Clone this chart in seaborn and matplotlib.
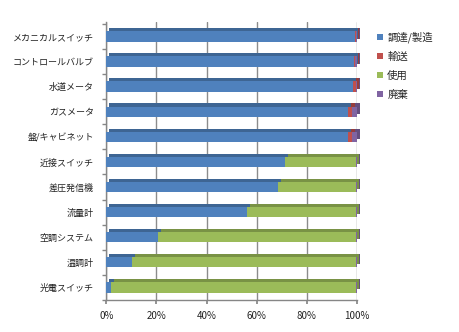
import numpy as np
import pandas as pd
import matplotlib
matplotlib.use("Agg")
import matplotlib.pyplot as plt
import matplotlib.patheffects as pe
from matplotlib.patches import Patch
import seaborn as sns

categories = ["メカニカルスイッチ", "コントロールバルブ", "水道メータ", "ガスメータ",
              "盤/キャビネット", "近接スイッチ", "差圧発信機", "流量計",
              "空調システム", "温調計", "光電スイッチ"]
procure = [99.2, 99.0, 98.5, 96.5, 96.5, 71.1, 68.5, 56.1, 20.5, 10.3, 1.8]
transport = [0.3, 0.4, 1.0, 1.5, 1.5, 0.3, 0.1, 0.1, 0.0, 0.0, 0.0]
use = [0.0, 0.0, 0.0, 0.0, 0.0, 28.2, 31.0, 43.4, 79.1, 89.3, 97.8]
disposal = [0.5, 0.6, 0.5, 2.0, 2.0, 0.4, 0.4, 0.4, 0.4, 0.4, 0.4]
series_names = ["調達/製造", "輸送", "使用", "廃棄"]
colors = ["#4F81BD", "#C0504D", "#9BBB59", "#8064A2"]
tick_vals = [0, 20, 40, 60, 80, 100]
tick_labels = ["0%", "20%", "40%", "60%", "80%", "100%"]

sns.set_theme(style="white")
plt.rcParams["font.family"] = ["Noto Sans CJK JP", "DejaVu Sans"]

df = pd.DataFrame({"cat": categories, "s0": procure, "s1": transport,
                   "s2": use, "s3": disposal})
tot = df[["s0", "s1", "s2", "s3"]].sum(axis=1)
for c in ["s0", "s1", "s2", "s3"]:
    df[c] = df[c] / tot * 100
cum = df[["s0", "s1", "s2", "s3"]].cumsum(axis=1)

fig = plt.figure(figsize=(4.6, 3.32), dpi=100)
ax = fig.add_axes([0.231, 0.097, 0.545, 0.838])

# depth faces (drawn first), then front faces
for pass_no in (0, 1):
    for i in [3, 2, 1, 0]:
        n_before = len(ax.patches)
        sns.barplot(x=cum[f"s{i}"], y=df["cat"], orient="h", color=colors[i],
                    saturation=1, width=0.42, ax=ax)
        for p in ax.patches[n_before:]:
            p.set_linewidth(0)
            p.set_clip_on(False)
            if pass_no == 0:
                p.set_zorder(2)
                p.set_path_effects([pe.SimplePatchShadow(offset=(2.2, 2.2),
                                                         rho=0.78, alpha=1)])
            else:
                p.set_zorder(3)

ax.set_xlim(0, 100)
ax.set_ylim(10.5, -0.6)
ax.set_xticks(tick_vals)
ax.set_xticklabels(tick_labels, fontsize=7, color="#222222")
ax.set_yticks(range(len(categories)))
ax.set_yticklabels(categories, fontsize=6.5, color="#222222")
ax.set_yticks(np.arange(-0.5, len(categories), 1), minor=True)
ax.tick_params(axis="y", which="major", length=0, pad=9)
ax.tick_params(axis="y", which="minor", length=3, color="#868686", left=True)
ax.tick_params(axis="x", which="major", length=3, color="#868686", bottom=True, pad=5)
ax.set_xlabel("")
ax.set_ylabel("")
ax.set_axisbelow(True)
ax.xaxis.grid(True, color="#8c8c8c", linewidth=1)
for s in ["top", "right"]:
    ax.spines[s].set_visible(False)
for s in ["left", "bottom"]:
    ax.spines[s].set_color("#868686")
    ax.spines[s].set_linewidth(1)

handles = [Patch(facecolor=c, edgecolor="none") for c in colors]
ax.legend(handles, series_names,
          loc="upper left", bbox_to_anchor=(368 / 460, 1 - 22 / 332),
          bbox_transform=fig.transFigure, frameon=False, fontsize=7.5,
          handlelength=0.55, handleheight=0.55, handletextpad=0.4,
          labelspacing=0.85)

fig.savefig("out.png", dpi=100)
